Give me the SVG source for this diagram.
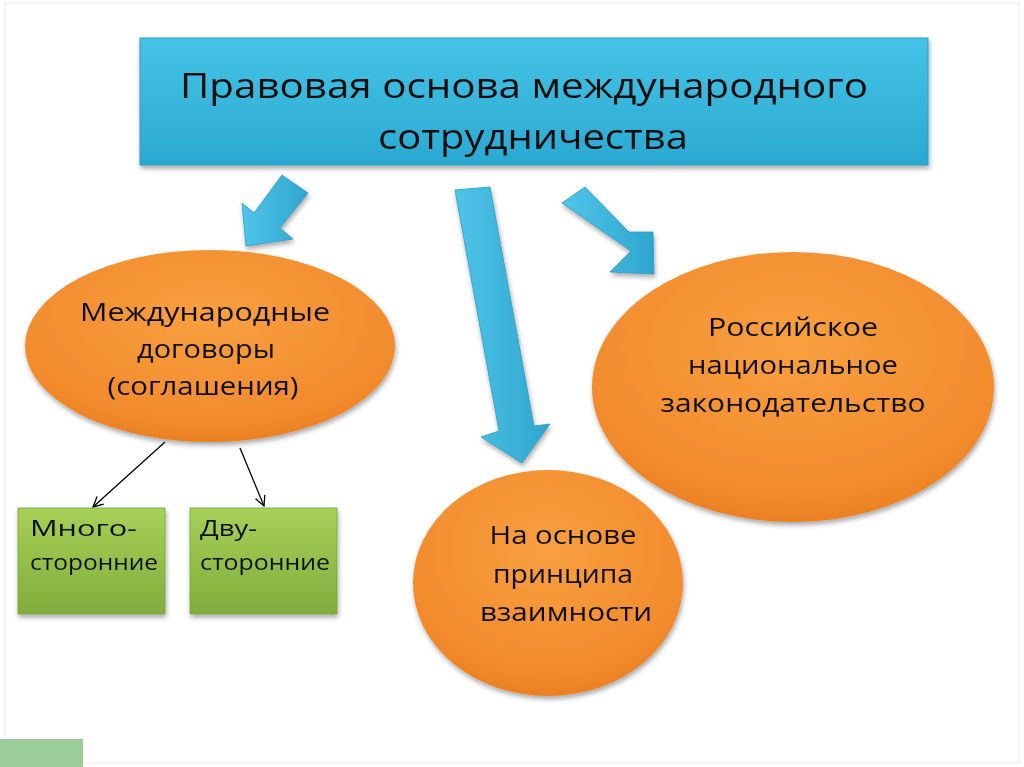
<svg xmlns="http://www.w3.org/2000/svg" width="1024" height="767" viewBox="0 0 1024 767">
<defs>
<linearGradient id="gBlue" x1="0" y1="0" x2="0" y2="1"><stop offset="0" stop-color="#45c3e6"/><stop offset="1" stop-color="#2aa9d2"/></linearGradient>
<linearGradient id="gArrow" x1="0" y1="0" x2="1" y2="0"><stop offset="0" stop-color="#50c4e8"/><stop offset="1" stop-color="#2ea6cf"/></linearGradient>
<radialGradient id="gOrange" cx="0.5" cy="0.35" r="0.7"><stop offset="0" stop-color="#f9a040"/><stop offset="0.8" stop-color="#f18a2c"/><stop offset="1" stop-color="#e77a1e"/></radialGradient>
<linearGradient id="gGreen" x1="0" y1="0" x2="0" y2="1"><stop offset="0" stop-color="#a7d058"/><stop offset="1" stop-color="#80ad3c"/></linearGradient>
<filter id="sh" x="-10%" y="-10%" width="120%" height="130%"><feDropShadow dx="1" dy="3" stdDeviation="2.5" flood-color="#000" flood-opacity="0.35"/></filter>
<marker id="ah" viewBox="0 0 12 12" refX="11" refY="6" markerWidth="12" markerHeight="12" markerUnits="userSpaceOnUse" orient="auto"><path d="M1,1 L11,6 L1,11" fill="none" stroke="#000" stroke-width="1.3"/></marker>
<style>
.t{font-family:"Open Sans","Liberation Sans",sans-serif;fill:#111;text-anchor:middle}
.tt{font-size:35px}
.te{font-size:26px}
.tg{font-size:22px;text-anchor:start}
</style>
</defs>
<rect x="0" y="0" width="1024" height="767" fill="#fff"/>
<rect x="5" y="3" width="1014" height="760" fill="none" stroke="#ececec" stroke-width="1"/>
<rect x="0" y="739" width="83" height="28" fill="#9acd9a"/>

<g id="title" filter="url(#sh)">
<rect x="140" y="38" width="788" height="127" fill="url(#gBlue)" stroke="#2d9fc6" stroke-width="1"/>
<text class="t tt" x="524" y="98" textLength="688" lengthAdjust="spacingAndGlyphs">Правовая основа международного</text>
<text class="t tt" x="533" y="149" textLength="310" lengthAdjust="spacingAndGlyphs">сотрудничества</text>
</g>

<g id="connectors">
<g filter="url(#sh)" fill="url(#gArrow)" stroke="#2b9cc4" stroke-width="0.8">
<polygon points="282,175 308,193 280,228 293,239 246,246 242,203 254,213"/>
<polygon points="455,190 490,187 534,426 550,424 522,463 481,437 499,431"/>
<polygon points="562,203 585,187 629,232 653,232 654,274 610,272 631,251"/>
</g>
<line x1="165" y1="442" x2="93" y2="507" stroke="#000" stroke-width="1.3" marker-end="url(#ah)"/>
<line x1="240" y1="448" x2="264" y2="506" stroke="#000" stroke-width="1.3" marker-end="url(#ah)"/>
</g>

<g id="treaties" filter="url(#sh)">
<ellipse cx="210" cy="346" rx="185" ry="96" fill="url(#gOrange)"/>
<text class="t te" x="205" y="321" textLength="250" lengthAdjust="spacingAndGlyphs">Международные</text>
<text class="t te" x="206" y="358" textLength="138" lengthAdjust="spacingAndGlyphs">договоры</text>
<text class="t te" x="203" y="395" textLength="191" lengthAdjust="spacingAndGlyphs">(соглашения)</text>
</g>

<g id="national" filter="url(#sh)">
<ellipse cx="793" cy="387" rx="201" ry="135" fill="url(#gOrange)"/>
<text class="t te" x="793" y="336" textLength="170" lengthAdjust="spacingAndGlyphs">Российское</text>
<text class="t te" x="793" y="374" textLength="210" lengthAdjust="spacingAndGlyphs">национальное</text>
<text class="t te" x="793" y="412" textLength="265" lengthAdjust="spacingAndGlyphs">законодательство</text>
</g>

<g id="reciprocity" filter="url(#sh)">
<ellipse cx="548" cy="583" rx="135" ry="113" fill="url(#gOrange)"/>
<text class="t te" x="563" y="544" textLength="147" lengthAdjust="spacingAndGlyphs">На основе</text>
<text class="t te" x="563" y="583" textLength="140" lengthAdjust="spacingAndGlyphs">принципа</text>
<text class="t te" x="566" y="621" textLength="172" lengthAdjust="spacingAndGlyphs">взаимности</text>
</g>

<g id="multi" filter="url(#sh)">
<rect x="18" y="508" width="147" height="106" fill="url(#gGreen)" stroke="#7aa23a" stroke-width="0.8"/>
<text class="t tg" x="30" y="536" textLength="107" lengthAdjust="spacingAndGlyphs">Много-</text>
<text class="t tg" x="30" y="570" textLength="128" lengthAdjust="spacingAndGlyphs">сторонние</text>
</g>

<g id="bi" filter="url(#sh)">
<rect x="190" y="508" width="147" height="106" fill="url(#gGreen)" stroke="#7aa23a" stroke-width="0.8"/>
<text class="t tg" x="200" y="536" textLength="57" lengthAdjust="spacingAndGlyphs">Дву-</text>
<text class="t tg" x="200" y="570" textLength="130" lengthAdjust="spacingAndGlyphs">сторонние</text>
</g>
</svg>
